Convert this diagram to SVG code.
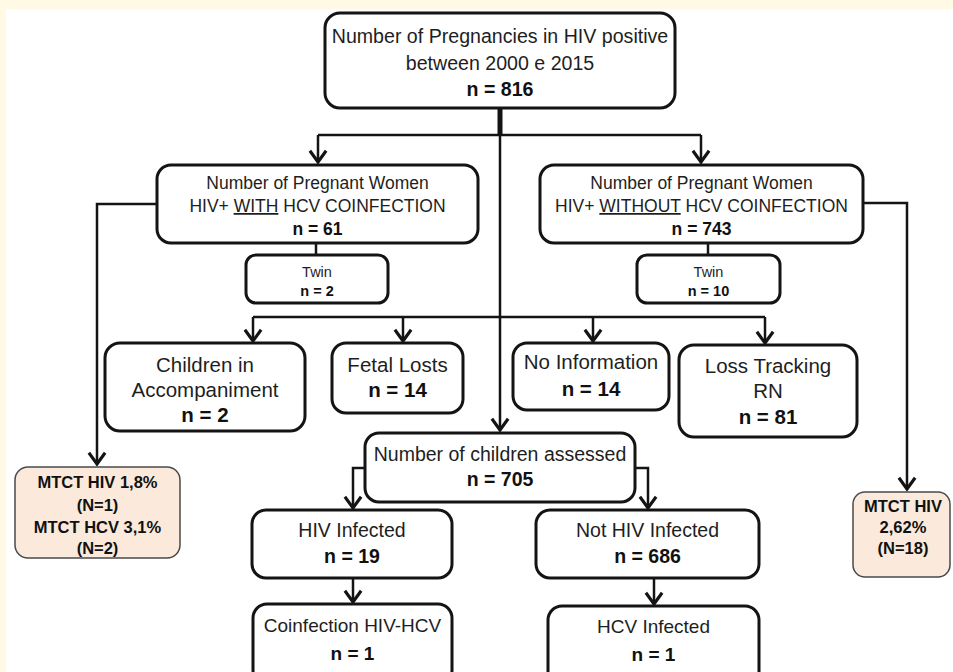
<svg xmlns="http://www.w3.org/2000/svg" width="953" height="672" viewBox="0 0 953 672">
<style>
.box{fill:#fff;stroke:#141414;stroke-width:3}
.side{fill:#fbe9dc;stroke:#4a4a4a;stroke-width:1.5}
.t{font-family:"Liberation Sans",Arial,sans-serif;fill:#1e1e1e;text-anchor:middle}
.b{font-weight:bold;fill:#111}
.c{fill:none;stroke:#141414;stroke-width:2.5}
</style>
<defs>
<marker id="ah" markerUnits="userSpaceOnUse" markerWidth="20" markerHeight="20" refX="0" refY="0" viewBox="-11 -8 13 16" orient="auto">
<path d="M-9,-6.5 L0,0 L-9,6.5" fill="none" stroke="#141414" stroke-width="2.5"/>
</marker>
</defs>
<rect x="0" y="0" width="953" height="672" fill="#fff9e5"/>
<rect x="6" y="9" width="947" height="663" fill="#ffffff"/>

<g id="connectors">
<line x1="500" y1="108" x2="500" y2="136" stroke="#141414" stroke-width="5"/>
<path class="c" d="M318,135 L701,135"/>
<path class="c" d="M318,135 L318,162" marker-end="url(#ah)"/>
<path class="c" d="M701,135 L701,162" marker-end="url(#ah)"/>
<path class="c" d="M500,135 L500,430" marker-end="url(#ah)"/>
<path class="c" d="M316,243 L316,255"/>
<path class="c" d="M708,243 L708,255"/>
<path class="c" d="M157,204 L97,204 L97,464" marker-end="url(#ah)"/>
<path class="c" d="M863,203 L907,203 L907,489" marker-end="url(#ah)"/>
<path class="c" d="M253,317 L765,317"/>
<path class="c" d="M253,317 L253,341" marker-end="url(#ah)"/>
<path class="c" d="M403,317 L403,341" marker-end="url(#ah)"/>
<path class="c" d="M593,317 L593,341" marker-end="url(#ah)"/>
<path class="c" d="M765,317 L765,343" marker-end="url(#ah)"/>
<path class="c" d="M365,468 L353,468 L353,508" marker-end="url(#ah)"/>
<path class="c" d="M635,468 L648,468 L648,508" marker-end="url(#ah)"/>
<path class="c" d="M353,578 L353,602" marker-end="url(#ah)"/>
<path class="c" d="M654,578 L654,604" marker-end="url(#ah)"/>
</g>

<g id="n-total">
<rect class="box" x="325" y="13" width="350" height="95" rx="15"/>
<text class="t" x="500" y="43" font-size="19.6">Number of Pregnancies in HIV positive</text>
<text class="t" x="500" y="70" font-size="19.6">between 2000 e 2015</text>
<text class="t b" x="500" y="96" font-size="19.6">n = 816</text>
</g>

<g id="n-with">
<rect class="box" x="157" y="165" width="321" height="78" rx="14"/>
<text class="t" x="317.5" y="189" font-size="17.5">Number of Pregnant Women</text>
<text class="t" x="317.5" y="212" font-size="17.5">HIV+ <tspan text-decoration="underline">WITH</tspan> HCV COINFECTION</text>
<text class="t b" x="317.5" y="235" font-size="17.5">n = 61</text>
</g>

<g id="n-without">
<rect class="box" x="540" y="165" width="323" height="78" rx="14"/>
<text class="t" x="701.5" y="189" font-size="17.5">Number of Pregnant Women</text>
<text class="t" x="701.5" y="212" font-size="17.5">HIV+ <tspan text-decoration="underline">WITHOUT</tspan> HCV COINFECTION</text>
<text class="t b" x="701.5" y="235" font-size="17.5">n = 743</text>
</g>

<g id="n-twin1">
<rect class="box" x="246" y="255" width="142" height="48" rx="10"/>
<text class="t" x="317" y="277" font-size="14.5">Twin</text>
<text class="t b" x="317" y="296" font-size="14.5">n = 2</text>
</g>

<g id="n-twin2">
<rect class="box" x="637" y="255" width="143" height="48" rx="10"/>
<text class="t" x="708.5" y="277" font-size="14.5">Twin</text>
<text class="t b" x="708.5" y="296" font-size="14.5">n = 10</text>
</g>

<g id="n-accomp">
<rect class="box" x="105" y="343" width="200" height="88" rx="15"/>
<text class="t" x="205" y="372" font-size="20.5">Children in</text>
<text class="t" x="205" y="397" font-size="20.5">Accompaniment</text>
<text class="t b" x="205" y="422" font-size="20.5">n = 2</text>
</g>

<g id="n-fetal">
<rect class="box" x="332" y="343" width="131" height="70" rx="14"/>
<text class="t" x="397.5" y="372" font-size="20.5">Fetal Losts</text>
<text class="t b" x="397.5" y="397" font-size="20.5">n = 14</text>
</g>

<g id="n-noinfo">
<rect class="box" x="513" y="343" width="156" height="67" rx="14"/>
<text class="t" x="591" y="369" font-size="20.5">No Information</text>
<text class="t b" x="591" y="396" font-size="20.5">n = 14</text>
</g>

<g id="n-loss">
<rect class="box" x="679" y="345" width="178" height="92" rx="15"/>
<text class="t" x="768" y="373" font-size="20.5">Loss Tracking</text>
<text class="t" x="768" y="398" font-size="20.5">RN</text>
<text class="t b" x="768" y="424" font-size="20.5">n = 81</text>
</g>

<g id="n-assessed">
<rect class="box" x="365" y="433" width="270" height="69" rx="14"/>
<text class="t" x="500" y="461" font-size="19.5">Number of children assessed</text>
<text class="t b" x="500" y="486" font-size="19.5">n = 705</text>
</g>

<g id="n-hivinf">
<rect class="box" x="252" y="510" width="200" height="68" rx="14"/>
<text class="t" x="352" y="537" font-size="19.5">HIV Infected</text>
<text class="t b" x="352" y="563" font-size="19.5">n = 19</text>
</g>

<g id="n-nothiv">
<rect class="box" x="536" y="510" width="223" height="68" rx="14"/>
<text class="t" x="647.5" y="537" font-size="19.5">Not HIV Infected</text>
<text class="t b" x="647.5" y="563" font-size="19.5">n = 686</text>
</g>

<g id="n-coinf">
<rect class="box" x="253" y="604" width="199" height="80" rx="14"/>
<text class="t" x="352.5" y="632" font-size="19">Coinfection HIV-HCV</text>
<text class="t b" x="352.5" y="660" font-size="19">n = 1</text>
</g>

<g id="n-hcv">
<rect class="box" x="548" y="606" width="211" height="80" rx="14"/>
<text class="t" x="653.5" y="633" font-size="19">HCV Infected</text>
<text class="t b" x="653.5" y="661" font-size="19">n = 1</text>
</g>

<g id="n-mtct1">
<rect class="side" x="15" y="467" width="165" height="91" rx="13"/>
<text class="t b" x="97.5" y="488" font-size="16.5">MTCT HIV 1,8%</text>
<text class="t b" x="97.5" y="511" font-size="16.5">(N=1)</text>
<text class="t b" x="97.5" y="533" font-size="16.5">MTCT HCV 3,1%</text>
<text class="t b" x="97.5" y="554" font-size="16.5">(N=2)</text>
</g>

<g id="n-mtct2">
<rect class="side" x="853" y="492" width="97" height="85" rx="12"/>
<text class="t b" x="903" y="512" font-size="16.5">MTCT HIV</text>
<text class="t b" x="903" y="533" font-size="16.5">2,62%</text>
<text class="t b" x="903" y="554" font-size="16.5">(N=18)</text>
</g>
</svg>
